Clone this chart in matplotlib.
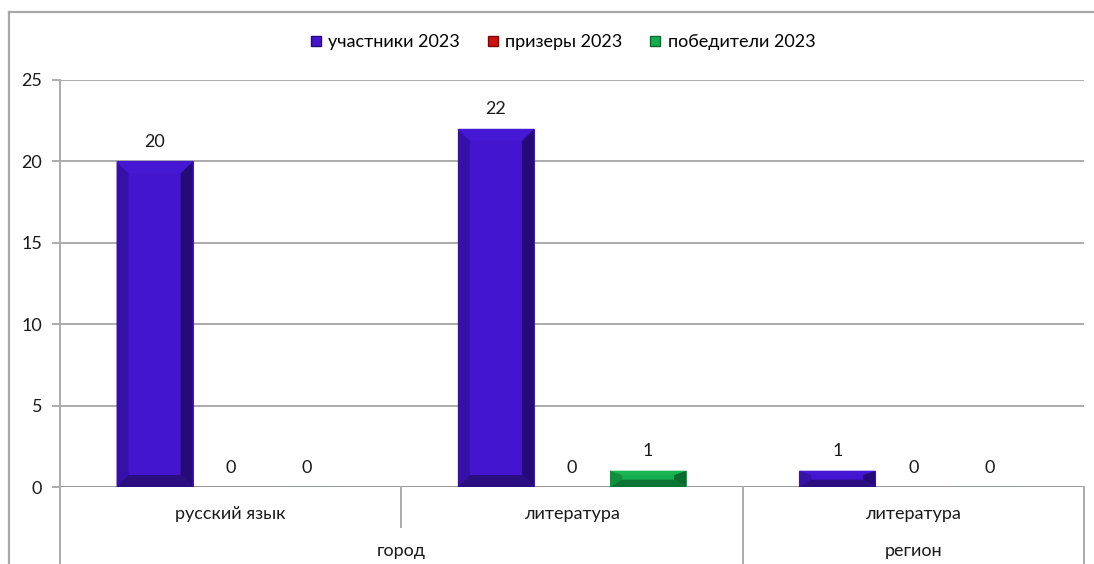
import matplotlib
matplotlib.use("Agg")
import matplotlib.pyplot as plt
import numpy as np
from matplotlib.patches import Polygon
from matplotlib.lines import Line2D

# данные
subjects = ["русский язык", "литература", "литература"]
levels = ["город", "регион"]
level_span = [2, 1]  # сколько предметов в каждом уровне
series_names = ["участники 2023", "призеры 2023", "победители 2023"]
participants = [20, 22, 1]
prizes = [0, 0, 0]
winners = [0, 1, 0]

face = ["#4315CF", "#D01010", "#16AD4E"]
left_c = ["#3511A8", "#A80C0C", "#10903F"]
right_c = ["#260B78", "#7A0808", "#0B6A2E"]
bottom_c = ["#2B0E80", "#880909", "#0C7534"]
top_c = ["#4518D4", "#D81818", "#1AB554"]

plt.rcParams['font.family'] = ['Lato', 'DejaVu Sans']

W, H = 1094, 564
fig = plt.figure(figsize=(W / 100, H / 100), dpi=100)
L, R, T, B = 60, 1084, 80, 487
ax = fig.add_axes([L / W, 1 - B / H, (R - L) / W, (B - T) / H])

x = np.arange(len(subjects))
bw = 76 / 341
ppu_y = (B - T) / 25.0
ppu_x = (R - L) / 3.0

ax.set_xlim(-0.5, 2.5)
ax.set_ylim(0, 25)
ax.set_yticks(range(0, 26, 5))
ax.grid(axis='y', color='#ababab', linewidth=1.4)
ax.set_axisbelow(True)
for s in ['top', 'right', 'bottom']:
    ax.spines[s].set_visible(False)
ax.spines['left'].set_color('#ababab')
ax.spines['left'].set_linewidth(1.4)
ax.tick_params(axis='y', length=5.8, width=1.4, color='#ababab', labelsize=13,
               labelcolor='#1a1a1a', pad=7)
ax.tick_params(axis='x', length=0, labelbottom=False)
ax.axhline(0, color='#9a9a9a', linewidth=1.4, zorder=1)


def bevel(rect, i):
    x0, w, h = rect.get_x(), rect.get_width(), rect.get_height()
    if h <= 0:
        return
    dx = 12 / ppu_x
    dy = min(12 / ppu_y, h * 0.45)
    dyt = min(12 / ppu_y, h * 0.25)
    x1 = x0 + w
    polys = [
        ([(x0, 0), (x0 + dx, dy), (x0 + dx, h - dyt), (x0, h)], left_c[i]),
        ([(x1, 0), (x1 - dx, dy), (x1 - dx, h - dyt), (x1, h)], right_c[i]),
        ([(x0, 0), (x1, 0), (x1 - dx, dy), (x0 + dx, dy)], bottom_c[i]),
        ([(x0, h), (x1, h), (x1 - dx, h - dyt), (x0 + dx, h - dyt)], top_c[i]),
    ]
    for pts, c in polys:
        ax.add_patch(Polygon(pts, closed=True, facecolor=c, edgecolor='none', zorder=3))


handles = []
for i, vals in enumerate([participants, prizes, winners]):
    bars = ax.bar(x + (i - 1) * bw, vals, width=bw, color=face[i],
                  edgecolor=face[i], linewidth=0.8, zorder=2)
    for r, v in zip(bars, vals):
        bevel(r, i)
        ax.annotate(str(v), (r.get_x() + r.get_width() / 2, v),
                    xytext=(0, 14), textcoords='offset points',
                    ha='center', va='center', fontsize=13, color='#1a1a1a')
    handles.append(Line2D([], [], marker='s', linestyle='none', markersize=7.5,
                          markerfacecolor=face[i], markeredgecolor=right_c[i]))

# подписи категорий в два уровня
trans = ax.get_xaxis_transform()
plot_h = B - T
for xi, s in zip(x, subjects):
    ax.text(xi, -27 / plot_h, s, transform=trans, ha='center', va='center',
            fontsize=13, color='#1a1a1a')
start = -0.5
for lev, n in zip(levels, level_span):
    ax.text(start + n / 2, -64 / plot_h, lev, transform=trans, ha='center',
            va='center', fontsize=13, color='#1a1a1a')
    start += n

line_kw = dict(transform=trans, color='#ababab', linewidth=1.4, clip_on=False)
ax.plot([0.5, 0.5], [0, -40 / plot_h], **line_kw)
for xb in [-0.5, 1.5, 2.5]:
    ax.plot([xb, xb], [0, -(H - B) / plot_h], **line_kw)

ax.legend(handles, series_names, loc='center', bbox_to_anchor=(562 / W, 1 - 42 / H),
          bbox_transform=fig.transFigure, ncol=3, frameon=False, fontsize=13,
          handletextpad=0.3, columnspacing=1.4, handlelength=0.8)

# рамка диаграммы
fig.add_artist(Line2D([9 / W, 9 / W], [0, 1 - 12 / H], color='#a8a8a8', linewidth=1.6))
fig.add_artist(Line2D([9 / W, 1], [1 - 12 / H, 1 - 12 / H], color='#a8a8a8', linewidth=1.6))

fig.savefig("out.png", dpi=100)
